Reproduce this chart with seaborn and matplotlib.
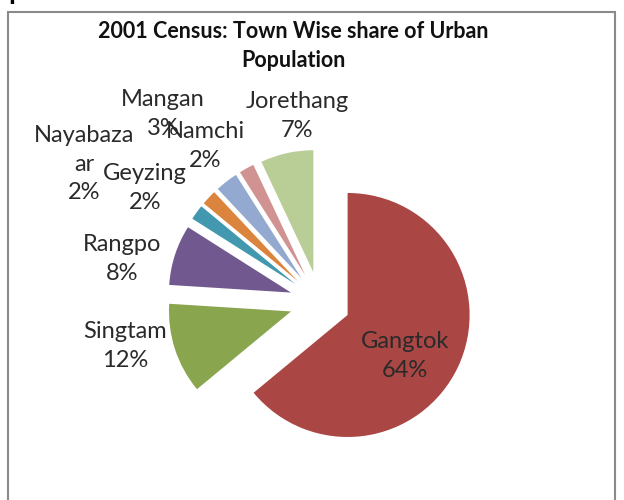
import matplotlib
matplotlib.use("Agg")
import matplotlib.pyplot as plt
import matplotlib.patches as mpatches
import seaborn as sns

# data
towns = ["Gangtok", "Singtam", "Rangpo", "Nayabazaar", "Geyzing", "Mangan", "Namchi", "Jorethang"]
shares = [64, 12, 8, 2, 2, 3, 2, 7]
label_texts = ["Gangtok\n64%", "Singtam\n12%", "Rangpo\n8%", "Nayabaza\nar\n2%",
               "Geyzing\n2%", "Mangan\n3%", "Namchi\n2%", "Jorethang\n7%"]

# excel 2007 palette
colors = sns.color_palette(["#AA4643", "#89A54E", "#71588F", "#4198AF",
                            "#DB843D", "#93A9CF", "#D19392", "#B9CD96"])

sns.set_theme(style="white")
plt.rcParams["font.family"] = ["Lato", "DejaVu Sans"]

W, H = 624, 500
fig = plt.figure(figsize=(W / 100, H / 100), dpi=100)
ax = fig.add_axes([0, 0, 1, 1])

# pie centre in pixels and radius
cx, cy, R = 320, 302, 122

ax.pie(shares, colors=colors, startangle=90, counterclock=False,
       explode=[0.25] * len(shares), radius=1,
       wedgeprops=dict(linewidth=0))
ax.set_xlim(-cx / R, (W - cx) / R)
ax.set_ylim(-(H - cy) / R, cy / R)
ax.set_aspect("auto")
ax.axis("off")

# label positions (pixel centres, from top-left)
label_pos = [(405, 356), (125, 346), (122, 259), (84, 164),
             (145, 188), (163, 114), (205, 146), (297, 116)]
for txt, (px, py) in zip(label_texts, label_pos):
    fig.text(px / W, 1 - py / H, txt, ha="center", va="center",
             fontsize=17, color="#2a2a2a", linespacing=1.45)

fig.text(293 / W, 1 - 46 / H, "2001 Census: Town Wise share of Urban\nPopulation",
         ha="center", va="center", fontsize=15.5, fontweight="bold",
         color="#111111", linespacing=1.45)

# chart border
fig.patches.append(mpatches.Rectangle((8 / W, -0.05), (615 - 8) / W, 1 - 12 / H + 0.05,
                                      transform=fig.transFigure, fill=False,
                                      edgecolor="#8a8a8a", linewidth=1.5))
# cut-off text from page above
fig.text(8 / W, 1 + 1 / H, "p", fontsize=20, fontweight="bold", color="black",
         ha="left", va="baseline")

fig.savefig("out.png", dpi=100)
